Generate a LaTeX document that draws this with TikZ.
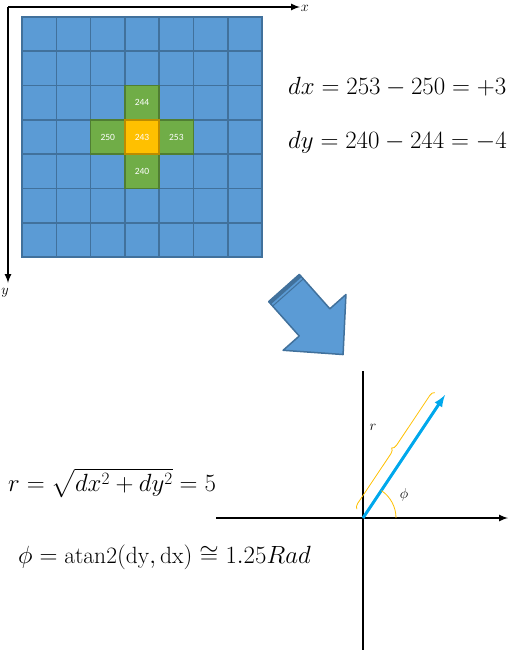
\documentclass[tikz,border=0pt]{standalone}
\usepackage{amsmath}
\usepackage{amssymb}
\usepackage{fontspec}
\newfontfamily\cellfont{Carlito}
\usepackage{tikz}
\usetikzlibrary{arrows}
\usetikzlibrary{positioning,decorations.pathreplacing}

\definecolor{pixblue}{RGB}{91,155,213}
\definecolor{pixedge}{RGB}{65,113,156}
\definecolor{pixgreen}{RGB}{112,173,71}
\definecolor{greenedge}{RGB}{80,126,50}
\definecolor{pixorange}{RGB}{255,192,0}
\definecolor{orangeedge}{RGB}{188,140,0}
\definecolor{vecblue}{RGB}{0,168,236}

\begin{document}
\begin{tikzpicture}[x=1pt,y=-1pt,
    cell/.style={rectangle,draw=pixedge,fill=pixblue,line width=1.6pt,minimum size=34.3pt,inner sep=0pt,
      font=\cellfont\fontsize{9.5}{10}\selectfont,text=white},
    nbcell/.style={cell,draw=greenedge,fill=pixgreen},
    midcell/.style={cell,draw=orangeedge,fill=pixorange},
    axis/.style={line width=2pt,-latex},
    lbl/.style={inner sep=0pt,font=\fontsize{14}{16}\selectfont},
    eq/.style={anchor=west,inner sep=0pt,font=\fontsize{23.5}{27}\selectfont}]
        \pgfmathsetmacro{\Cell}{34.3}
        \useasboundingbox (0,0) rectangle (510,650);

% image grid
\foreach \i in {0,...,6}
  \foreach \j in {0,...,6}
    \node[cell] (p\i\j) at ({22+\Cell*(\i+0.5)},{17+\Cell*(\j+0.5)}) {};
\node[nbcell] (up) at (p32) {244};
\node[nbcell] (left) at (p23) {250};
\node[nbcell] (right) at (p43) {253};
\node[nbcell] (down) at (p34) {240};
\node[midcell] (mid) at (p33) {243};

% image axes
\coordinate (o) at (8,7);
\coordinate (xe) at (300,7);
\coordinate (ye) at (8,283);
\draw[axis] (o) -- (xe);
\draw[axis] (o) -- (ye);
\node[lbl] (xl) at (305,8) {$x$};
\node[lbl] (yl) at (5,293) {$y$};

\node[eq] (dx) at (288,87) {$dx = 253 - 250 = +3$};
\node[eq] (dy) at (288,142) {$dy = 240 - 244 = -4$};

% block arrow
\begin{scope}[shift={(284,288)},rotate=-48.4]
\draw[pixedge,fill=pixblue,line width=1.5pt,line join=round]
  (0,-20.5) -- (46,-20.5) -- (46,-42) -- (89,0) -- (46,42) -- (46,20.5) -- (0,20.5) -- cycle;
\fill[pixedge] (0,-20.5) rectangle (3.5,20.5);
\draw[pixedge,line width=1pt] (6,-20.5) -- (6,20.5);
\end{scope}

% polar plot
\coordinate (O) at (363,518);
\coordinate (he) at (508,518);
\coordinate (hs) at (216,518);
\coordinate (vs) at (363,371);
\coordinate (ve) at (363,650);
\coordinate (tip) at (445,395);
\draw[line width=2pt] (vs) -- (ve);
\draw[axis] (hs) -- (he);
\draw[vecblue,line width=3pt,-latex] (O) -- (tip);
\coordinate (b1) at (356.9,509.1);
\coordinate (b2) at (434.7,392.6);
\draw[pixorange,line width=0.8pt,decorate,decoration={brace,amplitude=5pt}] (b1) -- (b2);
\draw[pixorange,line width=0.8pt] (396,518) arc[start angle=0,end angle=-56,radius=33];
\node[lbl] (rl) at (373,427) {$r$};
\node[lbl] (phil) at (404,495) {$\phi$};

\node[eq] (req) at (8,483) {$r = \sqrt{dx^2 + dy^2} = 5$};
\node[eq] (phieq) at (18,557) {$\phi = \mathrm{atan2}(\mathrm{dy},\mathrm{dx}) \cong 1.25 Rad$};
\end{tikzpicture}
\end{document}
